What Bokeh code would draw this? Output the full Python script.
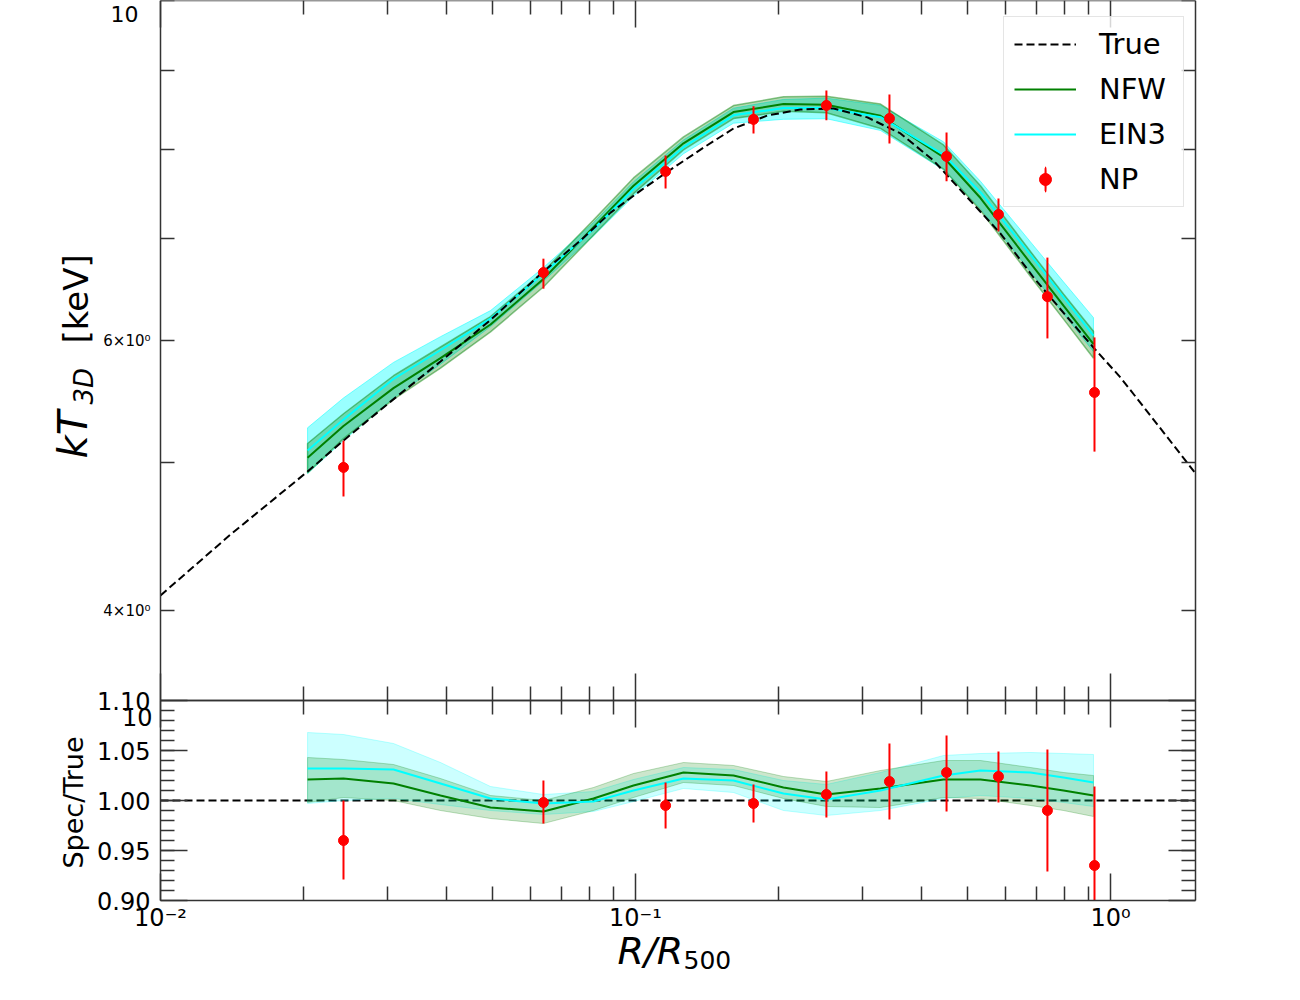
import math
from bokeh.plotting import figure
from bokeh.models import (Range1d, LogScale, LogAxis, LinearAxis, FixedTicker, Label,
                          Legend, LegendItem)
from bokeh.embed import file_html
from bokeh.resources import INLINE

# ---------------- data ----------------
true_r = [0.0100, 0.01404, 0.02040, 0.02428, 0.03050, 0.03886, 0.04953, 0.0640, 0.07658, 0.08860,
          0.1025, 0.1160, 0.1391, 0.1608, 0.1896, 0.2225, 0.2612, 0.3078, 0.3613, 0.4241, 0.5000,
          0.5867, 0.6886, 0.8121, 0.9209, 1.0497, 1.2742, 1.5101]
true_T = [4.092, 4.484, 4.929, 5.164, 5.475, 5.815, 6.190, 6.656, 6.973, 7.272,
          7.516, 7.722, 8.018, 8.251, 8.414, 8.490, 8.503, 8.390, 8.190, 7.864, 7.438,
          7.047, 6.597, 6.212, 5.938, 5.677, 5.259, 4.915]

model_r = [0.02040, 0.02428, 0.03094, 0.03886, 0.04952, 0.0640, 0.08157, 0.09904, 0.1262, 0.1608,
           0.2049, 0.2523, 0.3280, 0.4451, 0.5325, 0.6786, 0.7963, 0.9209]

nfw_T = [5.033, 5.278, 5.587, 5.844, 6.147, 6.583, 7.114, 7.572, 8.070, 8.457,
         8.560, 8.551, 8.410, 7.903, 7.433, 6.740, 6.323, 5.968]
nfw_T_lo = [4.919, 5.179, 5.494, 5.757, 6.079, 6.503, 7.029, 7.482, 7.991, 8.375,
            8.467, 8.449, 8.252, 7.763, 7.295, 6.607, 6.197, 5.843]
nfw_T_hi = [5.141, 5.376, 5.692, 5.943, 6.221, 6.656, 7.192, 7.661, 8.148, 8.540,
            8.653, 8.662, 8.559, 8.050, 7.571, 6.859, 6.435, 6.086]
ein_T = [5.087, 5.329, 5.664, 5.914, 6.202, 6.636, 7.093, 7.535, 8.023, 8.416,
         8.509, 8.509, 8.393, 7.934, 7.498, 6.826, 6.404, 6.045]
ein_T_lo = [4.914, 5.164, 5.505, 5.792, 6.128, 6.563, 7.022, 7.453, 7.944, 8.317,
            8.366, 8.373, 8.227, 7.755, 7.316, 6.653, 6.247, 5.902]
ein_T_hi = [5.264, 5.505, 5.807, 6.036, 6.277, 6.696, 7.164, 7.617, 8.109, 8.507,
            8.619, 8.636, 8.543, 8.088, 7.622, 6.959, 6.554, 6.211]

nfw_ratio = [1.021, 1.022, 1.017, 1.005, 0.993, 0.989, 1.002, 1.015, 1.028, 1.025,
             1.013, 1.006, 1.012, 1.021, 1.021, 1.015, 1.010, 1.005]
nfw_ratio_lo = [0.998, 1.003, 1.000, 0.990, 0.982, 0.977, 0.990, 1.003, 1.018, 1.015,
                1.002, 0.994, 0.993, 1.003, 1.002, 0.995, 0.990, 0.984]
nfw_ratio_hi = [1.043, 1.041, 1.036, 1.022, 1.005, 1.000, 1.013, 1.027, 1.038, 1.035,
                1.024, 1.019, 1.030, 1.040, 1.040, 1.033, 1.028, 1.025]
ein_ratio = [1.032, 1.032, 1.031, 1.017, 1.002, 0.997, 0.999, 1.010, 1.022, 1.020,
             1.007, 1.001, 1.010, 1.025, 1.030, 1.028, 1.023, 1.018]
ein_ratio_lo = [0.997, 1.000, 1.002, 0.996, 0.990, 0.986, 0.989, 0.999, 1.012, 1.008,
                0.990, 0.985, 0.990, 1.002, 1.005, 1.002, 0.998, 0.994]
ein_ratio_hi = [1.068, 1.066, 1.057, 1.038, 1.014, 1.006, 1.009, 1.021, 1.033, 1.031,
                1.020, 1.016, 1.028, 1.045, 1.047, 1.048, 1.047, 1.046]

np_r = [0.02428, 0.0640, 0.1157, 0.1772, 0.2523, 0.3425, 0.4517, 0.5810, 0.7366, 0.9254]
np_T = [4.960, 6.646, 7.736, 8.365, 8.542, 8.376, 7.912, 7.252, 6.410, 5.551]
np_T_lo = [4.748, 6.487, 7.541, 8.190, 8.353, 8.066, 7.622, 7.068, 6.020, 5.079]
np_T_hi = [5.164, 6.786, 7.924, 8.530, 8.737, 8.685, 8.203, 7.428, 6.797, 6.029]
np_ratio = [0.960, 0.998, 0.995, 0.997, 1.006, 1.019, 1.028, 1.024, 0.990, 0.935]
np_ratio_lo = [0.921, 0.977, 0.972, 0.978, 0.983, 0.981, 0.989, 0.998, 0.929, 0.900]
np_ratio_hi = [1.000, 1.020, 1.018, 1.016, 1.029, 1.057, 1.065, 1.049, 1.051, 1.014]
ratio_ref = 1.0

x_major = [0.01, 0.1, 1.0]
x_major_labels = ["10\u207b\u00b2", "10\u207b\u00b9", "10\u2070"]
x_minor = [k * d for d in (0.01, 0.1) for k in range(2, 10)]
T_labelled = [4.0, 6.0, 10.0]
T_labels = ["4\u00d710\u2070", "6\u00d710\u2070", "10"]
T_label_sizes = ["15px", "15px", "22px"]
T_tick_major = [4.0, 6.0]
T_tick_minor = [5.0, 7.0, 8.0, 9.0, 10.0]
ratio_major = [0.90, 0.95, 1.00, 1.05, 1.10]
ratio_major_labels = ["%.2f" % v for v in ratio_major]
ratio_minor = [round(0.90 + 0.01 * i, 2) for i in range(1, 20)]

# ---------------- layout (canvas pixels; the frame covers the whole canvas) ----------------
W, H = 1200, 990
BOX_L, BOX_R, BOX_T, BOX_MID, BOX_B = 160, 1195, 0, 700, 900
x_lo, x_hi = 0.01, 1.51
T_lo_panel, T_hi = 3.495, 10.0
ratio_lo, ratio_hi = 0.90, 1.10
kx = (BOX_R - BOX_L) / (math.log10(x_hi) - math.log10(x_lo))       # px per decade
dec_top = math.log10(T_hi) - math.log10(T_lo_panel)
ky_T = (BOX_MID - BOX_T) / dec_top                                  # px per decade (upper)
ky_r = (BOX_B - BOX_MID) / (ratio_hi - ratio_lo)                    # px per unit (lower)

x_start = 10 ** (math.log10(x_lo) - BOX_L / kx)
x_end = 10 ** (math.log10(x_hi) + (W - BOX_R) / kx)
r_start = ratio_lo - (H - BOX_B) / ky_r
r_end = ratio_hi + (BOX_MID - BOX_T) / ky_r
T_start = 10 ** (math.log10(T_hi) - (H - BOX_T) / ky_T)
T_end = 10 ** (math.log10(T_hi) + BOX_T / ky_T)


def px_to_x(px):
    return 10 ** (math.log10(x_lo) + (px - BOX_L) / kx)


def py_to_r(py):
    return ratio_hi - (py - BOX_MID) / ky_r


def T_to_r(v):
    return py_to_r(BOX_T + (math.log10(T_hi) - math.log10(v)) * ky_T)


FONT = "DejaVu Sans"
AX = "#333333"

p = figure(width=W, height=H, x_axis_type="log", y_axis_type="linear",
           x_axis_location=None, y_axis_location=None,
           x_range=Range1d(x_start, x_end), y_range=Range1d(r_start, r_end),
           output_backend="svg", toolbar_location=None, min_border=0,
           min_border_left=0, min_border_right=0, min_border_top=0, min_border_bottom=0)
p.extra_y_ranges = {"T": Range1d(T_start, T_end)}
p.extra_y_scales = {"T": LogScale()}
p.grid.visible = False
p.outline_line_color = None
p.background_fill_color = "white"
p.border_fill_color = "white"


def style(ax, major, minor, ticks):
    ax.axis_line_color = AX
    ax.axis_line_width = 1.5
    ax.major_tick_line_color = AX
    ax.minor_tick_line_color = AX
    ax.major_tick_line_width = 1.5
    ax.minor_tick_line_width = 1.5
    ax.major_tick_in = major
    ax.major_tick_out = 0
    ax.minor_tick_in = minor
    ax.minor_tick_out = 0
    ax.axis_label = None
    ax.major_label_text_font_size = "1px"
    ax.major_label_standoff = 0
    ax.major_label_overrides = {t: "" for t in ticks}


def add_x_axis(side, loc):
    ax = LogAxis(ticker=FixedTicker(ticks=x_major, minor_ticks=x_minor),
                 fixed_location=loc, bounds=(x_lo, x_hi))
    style(ax, 27, 14, x_major)
    p.add_layout(ax, side)


add_x_axis("below", ratio_lo)      # bottom of lower panel
add_x_axis("above", r_end)         # top of upper panel
add_x_axis("below", ratio_hi)      # bottom of upper panel (ticks point up)
add_x_axis("above", ratio_hi)      # top of lower panel (ticks point down)

for side, loc in (("left", x_lo), ("right", x_hi)):
    ra = LinearAxis(ticker=FixedTicker(ticks=ratio_major, minor_ticks=ratio_minor),
                    fixed_location=loc, bounds=(ratio_lo, ratio_hi))
    style(ra, 27, 14, ratio_major)
    p.add_layout(ra, side)
    ta = LogAxis(ticker=FixedTicker(ticks=T_tick_major, minor_ticks=T_tick_minor), y_range_name="T",
                 fixed_location=loc, bounds=(T_lo_panel, T_hi))
    style(ta, 14, 14, T_tick_major)
    p.add_layout(ta, side)

# ---------------- upper panel ----------------
band_x = model_r + model_r[::-1]
p.patch(band_x, ein_T_hi + ein_T_lo[::-1], y_range_name="T", fill_color="cyan", fill_alpha=0.4,
        line_color="cyan", line_alpha=0.5, line_width=1)
p.patch(band_x, nfw_T_hi + nfw_T_lo[::-1], y_range_name="T", fill_color="green", fill_alpha=0.3,
        line_color="green", line_alpha=0.45, line_width=1.5)
r_nfw = p.line(model_r, nfw_T, y_range_name="T", line_color="green", line_width=2)
r_ein = p.line(model_r, ein_T, y_range_name="T", line_color="cyan", line_width=2)
r_true = p.line(true_r, true_T, y_range_name="T", line_color="black", line_width=2, line_dash="8 4")
p.segment(x0=np_r, y0=np_T_lo, x1=np_r, y1=np_T_hi, y_range_name="T", line_color="red", line_width=2)
r_bar = p.ellipse(x=np_r, y=np_T, y_range_name="T", width=0.1, height=10,
                  width_units="screen", height_units="screen",
                  fill_color=None, line_color="red", line_width=2)
r_np = p.scatter(np_r, np_T, y_range_name="T", marker="circle", size=10,
                 fill_color="red", line_color="red")

# ---------------- lower panel ----------------
p.line([x_lo, x_hi], [ratio_ref, ratio_ref], line_color="black", line_width=2, line_dash="8 4")
p.patch(band_x, ein_ratio_hi + ein_ratio_lo[::-1], fill_color="cyan",
        fill_alpha=0.2, line_color="cyan", line_alpha=0.25, line_width=1)
p.patch(band_x, nfw_ratio_hi + nfw_ratio_lo[::-1], fill_color="green",
        fill_alpha=0.2, line_color="green", line_alpha=0.25, line_width=1)
p.line(model_r, nfw_ratio, line_color="green", line_width=2)
p.line(model_r, ein_ratio, line_color="cyan", line_width=2)
p.segment(x0=np_r, y0=np_ratio_lo, x1=np_r, y1=np_ratio_hi, line_color="red", line_width=2)
p.scatter(np_r, np_ratio, marker="circle", size=10, fill_color="red", line_color="red")

# ---------------- legend ----------------
legend = Legend(items=[LegendItem(label="True", renderers=[r_true]),
                       LegendItem(label="NFW", renderers=[r_nfw]),
                       LegendItem(label="EIN3", renderers=[r_ein]),
                       LegendItem(label="NP", renderers=[r_bar, r_np])],
                location="top_right", margin=16, padding=10, spacing=11,
                glyph_width=62, glyph_height=30, label_standoff=23, label_width=74,
                label_text_font=FONT, label_text_font_size="29px", label_text_color="black",
                border_line_color="#cccccc", border_line_width=1.5,
                background_fill_color="white", background_fill_alpha=0.8)
p.add_layout(legend)


# ---------------- texts: tick labels and axis titles ----------------
def lab(x, r, text, size, style_="normal", align="left", baseline="middle", angle=0.0):
    p.add_layout(Label(x=x, y=r, text=text, text_font=FONT, text_font_size=size,
                       text_font_style=style_, text_align=align, text_baseline=baseline,
                       angle=angle, text_color="black"))


for v, t in zip(x_major, x_major_labels):
    lab(v, py_to_r(BOX_B + 3), t, "24px", align="center", baseline="top")
for v, t in zip(ratio_major, ratio_major_labels):
    lab(px_to_x(BOX_L - 10), v, t, "24px", align="right")
for v, t, s in zip(T_labelled, T_labels, T_label_sizes):
    if v == T_hi:   # top label sits just inside the upper edge of the picture
        lab(px_to_x(BOX_L - 22), py_to_r(BOX_T + 5), t, s, align="right", baseline="top")
    else:
        lab(px_to_x(BOX_L - 10), T_to_r(v), t, s, align="right")

lab(px_to_x(72), py_to_r(458), "kT", "40px", style_="italic", angle=math.pi / 2)
lab(px_to_x(83), py_to_r(404), "3D", "26px", style_="italic", angle=math.pi / 2)
lab(px_to_x(75), py_to_r(343), "[keV]", "34px", angle=math.pi / 2)
lab(px_to_x(73), py_to_r(802), "Spec/True", "27px", align="center", angle=math.pi / 2)
lab(px_to_x(617), py_to_r(950), "R/R", "38px", style_="italic")
lab(px_to_x(683), py_to_r(959), "500", "25px")
lab(px_to_x(152), py_to_r(716), "10", "24px", align="right")

open("out.html", "w").write(file_html(p, INLINE))
